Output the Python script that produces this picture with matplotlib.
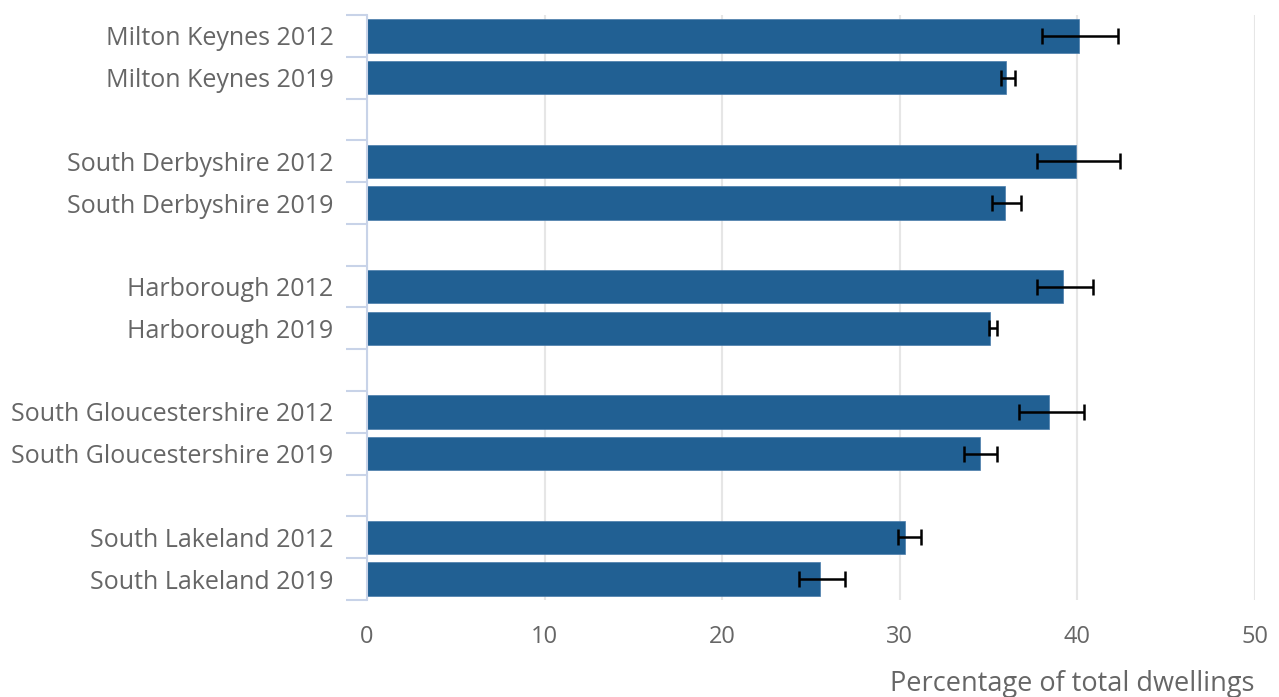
import numpy as np
import matplotlib.pyplot as plt

# Share of dwellings, with lower/upper confidence limits
labels = ["Milton Keynes 2012", "Milton Keynes 2019",
          "South Derbyshire 2012", "South Derbyshire 2019",
          "Harborough 2012", "Harborough 2019",
          "South Gloucestershire 2012", "South Gloucestershire 2019",
          "South Lakeland 2012", "South Lakeland 2019"]
values = [40.1, 36.0, 39.9, 35.9, 39.2, 35.1, 38.4, 34.5, 30.3, 25.5]
lower = [38.0, 35.7, 37.7, 35.2, 37.7, 35.0, 36.7, 33.6, 29.9, 24.3]
upper = [42.3, 36.5, 42.4, 36.8, 40.9, 35.5, 40.4, 35.5, 31.2, 26.9]
xticks = [0, 10, 20, 30, 40, 50]

plt.rcParams['font.family'] = ['Open Sans', 'DejaVu Sans']
plt.rcParams['font.stretch'] = 'normal'

# two bars per area, one empty slot between areas
pos = []
for i in range(len(labels)):
    pos.append(i // 2 * 3 + i % 2)
pos = np.array(pos)
vals = np.array(values)
err = np.array([vals - np.array(lower), np.array(upper) - vals])

fig = plt.figure(figsize=(12.79, 6.97), dpi=100)
ax = fig.add_axes([0.2869, 0.1392, 0.6943, 0.8393])

ax.barh(pos, vals, height=0.8, color='#216093', edgecolor='#4a7cab', linewidth=0.5, zorder=2)
ax.errorbar(vals, pos, xerr=err, fmt='none', ecolor='black', elinewidth=1.8,
            capsize=6, capthick=1.8, zorder=3)

ax.set_xlim(0, 50)
ax.set_ylim(13.5, -0.5)
ax.set_xticks(xticks)
ax.grid(axis='x', color='#e6e6e6', linewidth=1.5, zorder=0)
ax.set_axisbelow(True)

ax.set_yticks(pos)
ax.set_yticklabels(labels)
ax.set_yticks(np.arange(-0.5, 14, 1.0), minor=True)
ax.tick_params(axis='y', which='major', length=0, pad=24, labelsize=18, labelcolor='#666666')
ax.tick_params(axis='y', which='minor', length=15, width=1.5, color='#c8d3e8')
ax.tick_params(axis='x', length=0, pad=18, labelsize=17, labelcolor='#666666')

for s in ['top', 'right', 'bottom']:
    ax.spines[s].set_visible(False)
ax.spines['left'].set_color('#c8d3e8')
ax.spines['left'].set_linewidth(1.5)

ax.set_xlabel("Percentage of total dwellings", fontsize=19.5, color='#666666')
ax.xaxis.set_label_coords(1.0, -0.12)
ax.xaxis.label.set_horizontalalignment('right')

fig.savefig("out.png", dpi=100)
